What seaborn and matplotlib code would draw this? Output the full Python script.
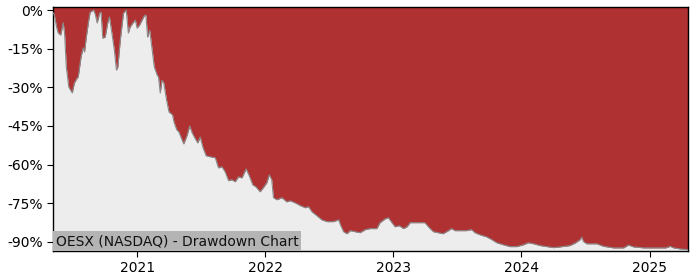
import matplotlib
matplotlib.use("Agg")
import matplotlib.pyplot as plt
import matplotlib.dates as mdates
import matplotlib.ticker as mticker
import pandas as pd
import seaborn as sns

dates = ["2020-05-05", "2020-05-08", "2020-05-16", "2020-05-20", "2020-05-27", "2020-06-03", "2020-06-07",
         "2020-06-12", "2020-06-19", "2020-06-29", "2020-07-05", "2020-07-13", "2020-07-16",
         "2020-07-24", "2020-07-30", "2020-08-03", "2020-08-08", "2020-08-15", "2020-08-19",
         "2020-08-29", "2020-09-03", "2020-09-08", "2020-09-15", "2020-09-19", "2020-09-24",
         "2020-10-01", "2020-10-08", "2020-10-13", "2020-10-20", "2020-10-27", "2020-11-02",
         "2020-11-06", "2020-11-13", "2020-11-22", "2020-11-30", "2020-12-06", "2020-12-11",
         "2020-12-19", "2020-12-26", "2020-12-31", "2021-01-07", "2021-01-14", "2021-01-20",
         "2021-01-25", "2021-01-30", "2021-02-05", "2021-02-12", "2021-02-18", "2021-02-26",
         "2021-03-02", "2021-03-07", "2021-03-12", "2021-03-17", "2021-03-25", "2021-04-01",
         "2021-04-11", "2021-04-15", "2021-04-23", "2021-04-29", "2021-05-06", "2021-05-13",
         "2021-05-23", "2021-05-30", "2021-06-06", "2021-06-15", "2021-06-22", "2021-06-29",
         "2021-07-07", "2021-07-16", "2021-07-28", "2021-08-11", "2021-08-20", "2021-08-30",
         "2021-09-08", "2021-09-18", "2021-09-27", "2021-10-07", "2021-10-16", "2021-10-26",
         "2021-11-07", "2021-11-16", "2021-11-26", "2021-12-05", "2021-12-17", "2021-12-26",
         "2022-01-05", "2022-01-12", "2022-01-19", "2022-01-24", "2022-02-03", "2022-02-17",
         "2022-03-03", "2022-03-13", "2022-03-27", "2022-04-11", "2022-04-25", "2022-05-04",
         "2022-05-14", "2022-05-28", "2022-06-11", "2022-06-26", "2022-07-14", "2022-07-29",
         "2022-08-03", "2022-08-12", "2022-08-22", "2022-08-31", "2022-09-14", "2022-09-28",
         "2022-10-13", "2022-10-27", "2022-11-15", "2022-11-24", "2022-12-09", "2022-12-18",
         "2022-12-28", "2023-01-06", "2023-01-18", "2023-01-30", "2023-02-09", "2023-02-18",
         "2023-03-08", "2023-04-01", "2023-04-11", "2023-04-25", "2023-05-09", "2023-05-23",
         "2023-06-07", "2023-06-16", "2023-06-26", "2023-07-10", "2023-07-29", "2023-08-12",
         "2023-08-22", "2023-09-05", "2023-09-24", "2023-10-09", "2023-10-23", "2023-11-11",
         "2023-11-30", "2023-12-19", "2024-01-07", "2024-01-21", "2024-02-05", "2024-02-24",
         "2024-03-14", "2024-04-02", "2024-04-21", "2024-05-19", "2024-06-03", "2024-06-17",
         "2024-06-22", "2024-06-26", "2024-07-06", "2024-08-03", "2024-08-23", "2024-09-21",
         "2024-10-19", "2024-11-02", "2024-11-16", "2024-12-15", "2025-01-23", "2025-02-16",
         "2025-03-01", "2025-03-11", "2025-03-30", "2025-04-21"]

drawdown = [-1.0, -1.5, -7.0, -8.9, -9.7, -4.9, -8.9,
            -22.1, -29.9, -32.2, -28.3, -26.4, -26.0,
            -18.2, -14.7, -16.3, -10.5, -3.9, -0.8,
            0.0, -1.9, -5.0, -1.2, -0.8, -10.9,
            -10.5, -5.0, -2.7, -8.9, -15.5, -23.3,
            -22.1, -11.6, -1.2, 0.0, -8.9, -6.6,
            -5.0, -3.9, -7.0, -5.8, -3.9, -2.3,
            -1.9, -10.5, -7.8, -15.5, -22.1, -25.2,
            -26.0, -32.2, -27.2, -28.3, -34.9, -39.6,
            -40.7, -43.4, -46.5, -47.3, -49.7, -52.0,
            -48.5, -45.0, -47.7, -50.0, -51.6, -49.3,
            -53.5, -56.6, -57.0, -57.4, -61.3, -60.9,
            -62.8, -66.3, -65.9, -66.7, -64.8, -65.2,
            -61.7, -64.4, -67.9, -68.7, -70.6, -69.0,
            -67.1, -64.0, -65.9, -72.9, -73.7, -72.9,
            -74.5, -74.1, -74.9, -76.0, -76.8, -76.4,
            -78.4, -79.9, -81.5, -82.2, -82.2, -81.5,
            -83.4, -86.1, -86.9, -85.7, -86.1, -86.5,
            -85.3, -84.9, -84.9, -82.6, -81.1, -80.7,
            -82.6, -84.2, -83.8, -84.9, -84.2, -82.6,
            -82.6, -82.6, -84.2, -86.1, -86.5, -86.9,
            -85.7, -84.9, -85.7, -85.7, -85.7, -85.3,
            -86.5, -87.3, -88.1, -89.2, -90.4, -91.2,
            -91.9, -91.9, -91.2, -90.4, -90.8, -91.5,
            -91.9, -92.3, -92.0, -91.5, -90.5, -89.2,
            -88.2, -89.9, -90.8, -90.8, -91.8, -92.4,
            -92.4, -91.3, -92.0, -92.4, -92.4, -92.4,
            -91.8, -92.4, -92.8, -93.1]

y_ticks = [0, -15, -30, -45, -60, -75, -90]
title_text = "OESX (NASDAQ) - Drawdown Chart"

df = pd.DataFrame({"date": pd.to_datetime(dates), "dd": drawdown})

sns.set_style("ticks")
plt.rcParams["font.family"] = ["DejaVu Sans"]

fig = plt.figure(figsize=(7, 2.8), dpi=100)
ax = fig.add_axes([0.0757, 0.1036, 0.9073, 0.8714])
ax.set_facecolor("#ededed")

ytop, ybot = 1.2, -93.6
ax.fill_between(df["date"], df["dd"], ytop, color="#b03131", linewidth=0, zorder=2)
sns.lineplot(data=df, x="date", y="dd", ax=ax, color="#8a8a8a", linewidth=0.8, zorder=3)

ax.set_xlim(df["date"].iloc[0], df["date"].iloc[-1])
ax.set_ylim(ybot, ytop)
ax.set_yticks(y_ticks)
ax.yaxis.set_major_formatter(mticker.FuncFormatter(lambda v, p: f"{int(v)}%"))
ax.xaxis.set_major_locator(mdates.YearLocator())
ax.xaxis.set_major_formatter(mdates.DateFormatter("%Y"))
ax.set_xlabel("")
ax.set_ylabel("")
ax.tick_params(labelsize=10, length=4, width=0.8, colors="black")
for s in ax.spines.values():
    s.set_color("black")
    s.set_linewidth(1.0)

ax.text(0.004, 0.012, title_text, transform=ax.transAxes, fontsize=10, color="#111111",
        ha="left", va="bottom", zorder=5,
        bbox=dict(facecolor="#b4b4b4", edgecolor="none", pad=2.0))

fig.savefig("out.png", dpi=100)
